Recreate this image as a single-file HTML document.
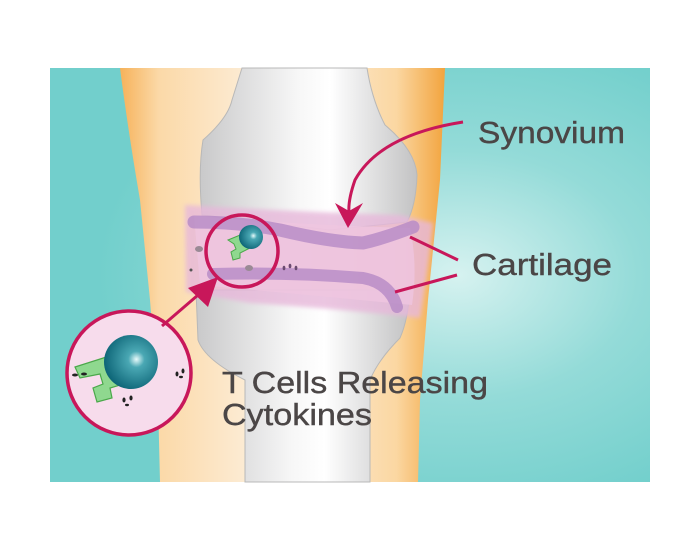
<!DOCTYPE html>
<html><head><style>html,body{margin:0;padding:0;background:#fff;}svg{display:block}</style></head>
<body>
<svg width="700" height="550" viewBox="0 0 700 550" xmlns="http://www.w3.org/2000/svg">
<defs>
<radialGradient id="bg" cx="0.68" cy="0.5" r="0.6">
<stop offset="0" stop-color="#d6f2f0"/><stop offset="0.5" stop-color="#94dbd8"/><stop offset="1" stop-color="#72cfcc"/>
</radialGradient>
<linearGradient id="leg" x1="0" x2="1" y1="0" y2="0">
<stop offset="0" stop-color="#f6b25a"/><stop offset="0.12" stop-color="#fbd9a8"/><stop offset="0.5" stop-color="#fdf3e6"/><stop offset="0.85" stop-color="#fbd7a2"/><stop offset="1" stop-color="#f2a43e"/>
</linearGradient>
<linearGradient id="bone" x1="0" x2="1" y1="0" y2="0">
<stop offset="0" stop-color="#c9c9ca"/><stop offset="0.45" stop-color="#f7f7f7"/><stop offset="0.6" stop-color="#ffffff"/><stop offset="1" stop-color="#c2c2c3"/>
</linearGradient>
<radialGradient id="sph" cx="0.6" cy="0.45" r="0.6">
<stop offset="0" stop-color="#e8fbfb"/><stop offset="0.25" stop-color="#4aa8b4"/><stop offset="1" stop-color="#0d6577"/>
</radialGradient>
<filter id="blur"><feGaussianBlur stdDeviation="2"/></filter>
</defs>
<rect x="50" y="68" width="600" height="414" fill="url(#bg)"/>
<path d="M120 68 L445 68 L440 180 L428 300 L420 400 L418 482 L160 482 L158 400 L150 300 L140 200 Q128 130 120 68Z" fill="url(#leg)"/>
<!-- femur -->
<path d="M242 68 L367 68 Q372 100 385 125 Q415 150 417 175 Q416 205 407 222 L330 230 L202 215 Q198 170 203 140 Q228 118 232 100 Z" fill="url(#bone)" stroke="#b8b8b8" stroke-width="1"/>
<!-- tibia -->
<path d="M196 290 L410 290 Q408 320 400 338 Q378 360 370 380 L370 482 L245 482 L245 380 Q205 360 198 340 Z" fill="url(#bone)" stroke="#b8b8b8" stroke-width="1"/>
<!-- band -->
<path d="M185 205 Q300 212 400 215 L433 223 Q428 270 420 318 Q330 308 250 303 L186 292 Z" fill="#e7b8da" opacity="0.8" filter="url(#blur)"/>
<path d="M194 216 Q300 225 410 228 Q418 265 412 305 Q320 296 200 285 Z" fill="#efc6e0" opacity="0.8"/>
<path d="M194 222 Q240 222 280 230 Q330 242 363 243 Q385 238 413 227" fill="none" stroke="#b58ac6" stroke-width="13" stroke-linecap="round" opacity="0.8"/>
<path d="M213 274 Q290 272 363 278 Q390 283 397 307" fill="none" stroke="#b58ac6" stroke-width="12" stroke-linecap="round" opacity="0.8"/>
<ellipse cx="199" cy="249" rx="4" ry="3" fill="#9a8a95"/>
<ellipse cx="249" cy="268" rx="4" ry="3" fill="#9a8a95"/>
<circle cx="191" cy="270" r="1.5" fill="#555"/>
<g fill="#6a4a70"><ellipse cx="284" cy="268" rx="1.4" ry="2.3"/><ellipse cx="290" cy="266" rx="1.4" ry="2.3"/><ellipse cx="296" cy="268" rx="1.4" ry="2.3"/></g>
<!-- small zoom circle contents -->
<path d="M228 240 L245 233 L250 248 L240 253 L240 258 L233 260 L231 252 L236 249 L234 244 Z" fill="#8fd88f" stroke="#4aa84a" stroke-width="1"/>
<circle cx="251" cy="237" r="12" fill="url(#sph)"/>
<circle cx="242" cy="251" r="36" fill="none" stroke="#c8175a" stroke-width="3.5"/>
<!-- big circle -->
<circle cx="129" cy="373" r="62" fill="#f7dcec" stroke="#c8175a" stroke-width="3.5"/>
<path d="M75 367 L122 352 L130 382 L110 388 L112 398 L97 402 L93 388 L103 384 L100 374 L80 378 Z" fill="#8fd88f" stroke="#4aa84a" stroke-width="1.2"/>
<circle cx="131" cy="362" r="27" fill="url(#sph)"/>
<g fill="#222"><ellipse cx="75" cy="375" rx="3" ry="1.5"/><ellipse cx="84" cy="374" rx="3" ry="1.5"/><ellipse cx="177" cy="374" rx="1.5" ry="2.5"/><ellipse cx="183" cy="371" rx="1.5" ry="2.5"/><ellipse cx="181" cy="377" rx="2" ry="1.2"/><ellipse cx="124" cy="400" rx="1.6" ry="2.5"/><ellipse cx="131" cy="398" rx="1.6" ry="2.5"/><ellipse cx="127" cy="405" rx="2" ry="1.2"/></g>
<!-- arrows -->
<line x1="162" y1="326" x2="205" y2="289" stroke="#c8175a" stroke-width="3"/>
<path d="M218 277 L188 288 L208 307 Z" fill="#c8175a"/>
<path d="M463 122 Q380 135 355 180 Q348 200 349 212" fill="none" stroke="#c8175a" stroke-width="3"/>
<path d="M348 228 L335 203 L349 211 L363 203 Z" fill="#c8175a"/>
<line x1="458" y1="260" x2="410" y2="237" stroke="#c8175a" stroke-width="3"/>
<line x1="457" y1="275" x2="395" y2="292" stroke="#c8175a" stroke-width="3"/>
<g font-family="Liberation Sans,sans-serif" fill="#4b4646" font-size="31" stroke="#4b4646" stroke-width="0.4">
<text x="478" y="143" textLength="147" lengthAdjust="spacingAndGlyphs">Synovium</text>
<text x="472" y="275" textLength="140" lengthAdjust="spacingAndGlyphs">Cartilage</text>
<text x="222" y="393" textLength="266" lengthAdjust="spacingAndGlyphs">T Cells Releasing</text>
<text x="222" y="425" textLength="150" lengthAdjust="spacingAndGlyphs">Cytokines</text>
</g>
</svg>
</body></html>
